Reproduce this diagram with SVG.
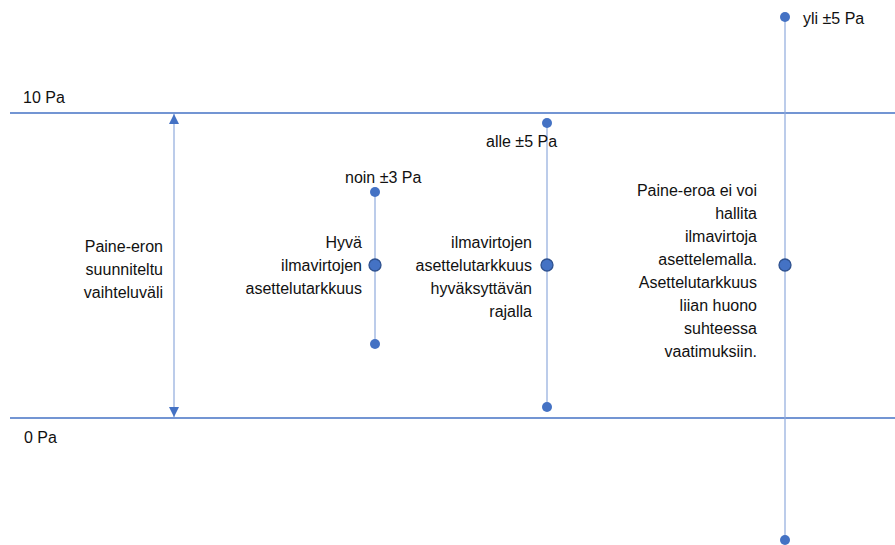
<svg xmlns="http://www.w3.org/2000/svg" width="895" height="545" viewBox="0 0 895 545">
<style>
text{font-family:"Liberation Sans",Arial,sans-serif;font-size:16px;fill:#111}
.r{text-anchor:end}
.h{stroke:#4472C4;stroke-width:1.5}
.v{stroke:#8FAADC;stroke-width:1.2}
.d{fill:#4472C4}
.m{fill:#4472C4;stroke:#2F528F;stroke-width:1.3}
</style>
<defs>
<marker id="ah" viewBox="0 0 10 10" refX="10" refY="5" markerWidth="10" markerHeight="10" markerUnits="userSpaceOnUse" orient="auto-start-reverse">
<path d="M0,0 L10,5 L0,10 z" fill="#4472C4"/>
</marker>
</defs>
<g id="axes">
<line class="h" x1="10" y1="113" x2="895" y2="113"/>
<line class="h" x1="10" y1="418" x2="895" y2="418"/>
<text x="23" y="103">10 Pa</text>
<text x="24" y="443">0 Pa</text>
</g>
<g id="connectors">
<line class="v" x1="174" y1="114" x2="174" y2="417" marker-start="url(#ah)" marker-end="url(#ah)"/>
<line class="v" x1="375" y1="192" x2="375" y2="344"/>
<line class="v" x1="547" y1="123" x2="547" y2="407"/>
<line class="v" x1="785" y1="17" x2="785" y2="540"/>
</g>
<g id="range">
<text class="r" x="163" y="252">Paine-eron</text>
<text class="r" x="163" y="275">suunniteltu</text>
<text class="r" x="163" y="298">vaihteluväli</text>
</g>
<g id="col1">
<circle class="d" cx="375" cy="192" r="5"/>
<circle class="m" cx="375" cy="265" r="6"/>
<circle class="d" cx="375" cy="344" r="5"/>
<text x="345" y="183">noin ±3 Pa</text>
<text class="r" x="362" y="248">Hyvä</text>
<text class="r" x="362" y="271">ilmavirtojen</text>
<text class="r" x="362" y="294">asettelutarkkuus</text>
</g>
<g id="col2">
<circle class="d" cx="547" cy="123" r="5"/>
<circle class="m" cx="547" cy="265" r="6"/>
<circle class="d" cx="547" cy="407" r="5"/>
<text x="486" y="147">alle ±5 Pa</text>
<text class="r" x="532" y="248">ilmavirtojen</text>
<text class="r" x="532" y="271">asettelutarkkuus</text>
<text class="r" x="532" y="294">hyväksyttävän</text>
<text class="r" x="532" y="317">rajalla</text>
</g>
<g id="col3">
<circle class="d" cx="785" cy="17" r="5"/>
<circle class="m" cx="785" cy="265" r="6"/>
<circle class="d" cx="785" cy="540" r="5"/>
<text x="803" y="24">yli ±5 Pa</text>
<text class="r" x="757" y="196">Paine-eroa ei voi</text>
<text class="r" x="757" y="219">hallita</text>
<text class="r" x="757" y="242">ilmavirtoja</text>
<text class="r" x="757" y="265">asettelemalla.</text>
<text class="r" x="757" y="288">Asettelutarkkuus</text>
<text class="r" x="757" y="311">liian huono</text>
<text class="r" x="757" y="334">suhteessa</text>
<text class="r" x="757" y="357">vaatimuksiin.</text>
</g>
</svg>
